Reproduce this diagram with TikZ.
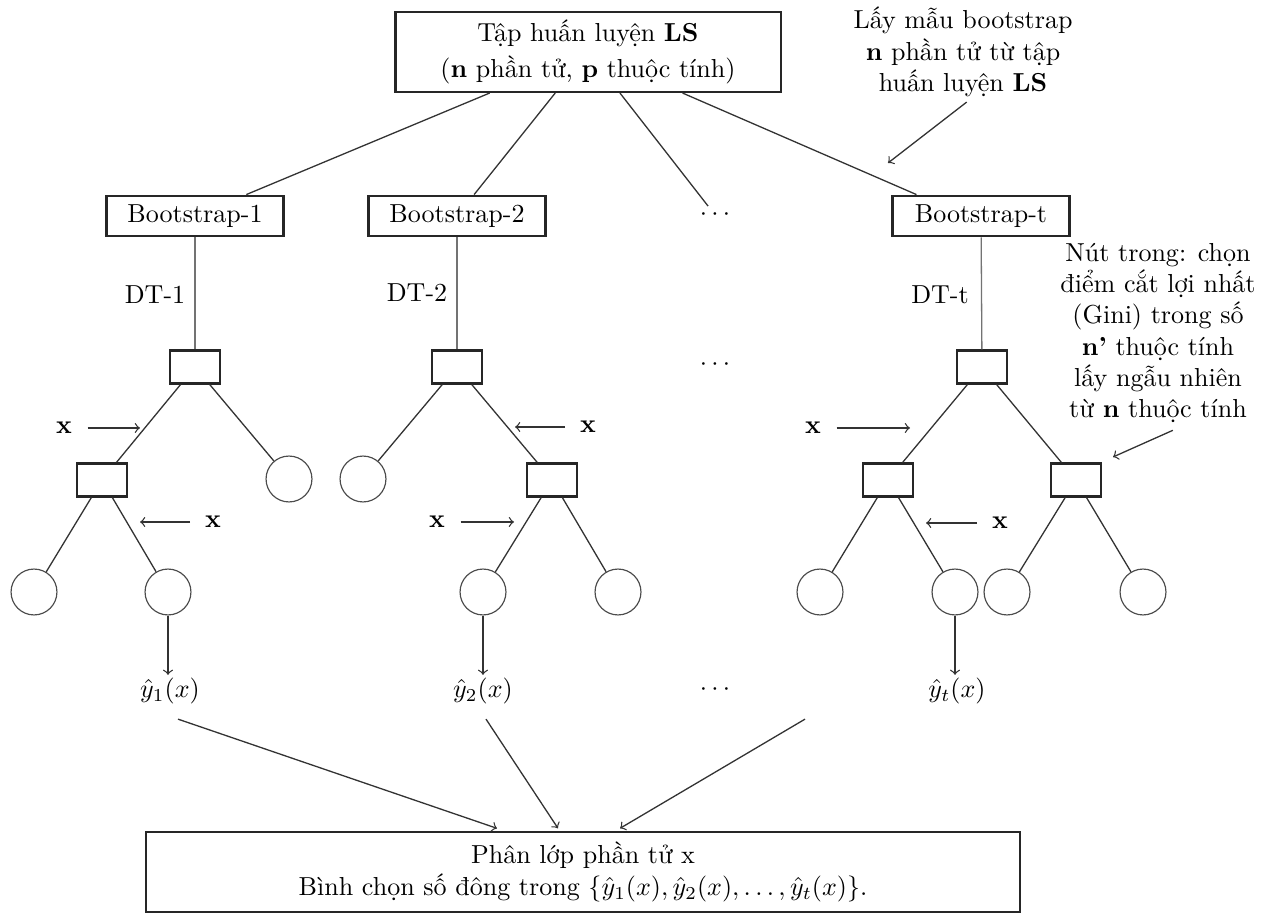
\documentclass[tikz,border=0pt]{standalone}
\usetikzlibrary{calc}
\begin{document}
\begin{tikzpicture}[x=0.0135cm,y=-0.0135cm,
  line/.style={draw=black!80, line width=0.5pt},
  arr/.style={line, ->},
  box/.style={draw=black!85, line width=0.8pt, inner sep=2pt, align=center},
  bsbox/.style={box, minimum width=2.39cm, minimum height=0.55cm},
  split/.style={draw=black!85, line width=0.8pt, minimum width=0.675cm, minimum height=0.446cm, inner sep=0pt},
  leaf/.style={circle, draw=black!70, line width=0.45pt, minimum size=0.62cm, inner sep=0pt},
  lbl/.style={inner sep=1pt, align=center},
  stem/.style={draw=black!55, line width=0.5pt}
]
\useasboundingbox (0,0) rectangle (1274,915);

% top box
\node[box, minimum width=5.2cm, minimum height=1.08cm] (ls) at (588,52)
  {Tập huấn luyện \textbf{LS}\\[1.5pt](\textbf{n} phần tử, \textbf{p} thuộc tính)};

% bootstrap boxes
\node[bsbox] (b1) at (195,216) {Bootstrap-1};
\node[bsbox] (b2) at (457,216) {Bootstrap-2};
\node[bsbox] (bt) at (981,216) {Bootstrap-t};
\node[lbl] (d1) at (715,215) {$\cdots$};
\node[lbl] (d2) at (715,365) {$\cdots$};
\node[lbl] (d3) at (715,690) {$\cdots$};

\draw[line] (ls) -- (b1);
\draw[line] (ls) -- (b2);
\draw[line] (ls) -- (d1);
\draw[line] (ls) -- ($(bt.north west)+(25,0)$);

% annotations
\node[lbl] (ann1) at (963,52) {Lấy mẫu bootstrap\\ \textbf{n} phần tử từ tập\\ huấn luyện \textbf{LS}};
\coordinate (ann1e) at (888,163);
\draw[arr] ([xshift=0.05cm,yshift=-0.03cm]ann1.south) -- (ann1e);

\node[lbl] (ann2) at (1158,333) {Nút trong: chọn\\ điểm cắt lợi nhất\\ (Gini) trong số\\ \textbf{n’} thuộc tính\\ lấy ngẫu nhiên\\ từ \textbf{n} thuộc tính};
\coordinate (ann2e) at (1113,457);
\draw[arr] ([xshift=0.2cm,yshift=-0.06cm]ann2.south) -- (ann2e);

% ---------- tree 1 ----------
\node[lbl] (dt1) at (155,295) {DT-1};
\node[split] (r1) at (195,367) {};
\node[split] (s1) at (102,480) {};
\node[leaf] (l1a) at (289,479) {};
\node[leaf] (l1b) at (34,592) {};
\node[leaf] (l1c) at (168,592) {};
\draw[stem] (b1) -- (r1);
\draw[line] (r1) -- (s1);
\draw[line] (r1) -- (l1a);
\draw[line] (s1) -- (l1b);
\draw[line] (s1) -- (l1c);
\node[lbl] (xa1) at (64,428) {\textbf{x}};
\coordinate (xa1e) at (140,428);
\draw[arr, shorten <=0.17cm] (xa1) -- (xa1e);
\node[lbl] (xb1) at (213,522) {\textbf{x}};
\coordinate (xb1e) at (140,522);
\draw[arr, shorten <=0.16cm] (xb1) -- (xb1e);
\node[lbl] (y1) at (170,691) {$\hat{y}_1(x)$};
\draw[arr] (l1c) -- (l1c |- y1.north);

% ---------- tree 2 ----------
\node[lbl] (dt2) at (417,293) {DT-2};
\node[split] (r2) at (457,367) {};
\node[leaf] (l2a) at (363,479) {};
\node[split] (s2) at (552,480) {};
\node[leaf] (l2b) at (483,592) {};
\node[leaf] (l2c) at (618,592) {};
\draw[stem] (b2) -- (r2);
\draw[line] (r2) -- (l2a);
\draw[line] (r2) -- (s2);
\draw[line] (s2) -- (l2b);
\draw[line] (s2) -- (l2c);
\node[lbl] (xa2) at (588,427) {\textbf{x}};
\coordinate (xa2e) at (515,427);
\draw[arr, shorten <=0.16cm] (xa2) -- (xa2e);
\node[lbl] (xb2) at (437,522) {\textbf{x}};
\coordinate (xb2e) at (514,522);
\draw[arr, shorten <=0.17cm] (xb2) -- (xb2e);
\node[lbl] (y2) at (483,691) {$\hat{y}_2(x)$};
\draw[arr] (l2b) -- (l2b |- y2.north);

% ---------- tree t ----------
\node[lbl] (dtt) at (940,295) {DT-t};
\node[split] (rt) at (982,367) {};
\node[split] (st1) at (888,480) {};
\node[split] (st2) at (1076,480) {};
\node[leaf] (lt1) at (820,592) {};
\node[leaf] (lt2) at (955,592) {};
\node[leaf] (lt3) at (1007,592) {};
\node[leaf] (lt4) at (1143,592) {};
\draw[stem] (bt) -- (rt);
\draw[line] (rt) -- (st1);
\draw[line] (rt) -- (st2);
\draw[line] (st1) -- (lt1);
\draw[line] (st1) -- (lt2);
\draw[line] (st2) -- (lt3);
\draw[line] (st2) -- (lt4);
\node[lbl] (xat) at (813,428) {\textbf{x}};
\coordinate (xate) at (910,428);
\draw[arr, shorten <=0.17cm] (xat) -- (xate);
\node[lbl] (xbt) at (1000,523) {\textbf{x}};
\coordinate (xbte) at (926,523);
\draw[arr, shorten <=0.16cm] (xbt) -- (xbte);
\node[lbl] (yt) at (957,691) {$\hat{y}_t(x)$};
\draw[arr] (lt2) -- (lt2 |- yt.north);

% ---------- bottom box ----------
\node[box, minimum width=11.81cm, minimum height=1.07cm] (bot) at (583,872)
  {Phân lớp phần tử x\\ Bình chọn số đông trong $\{\hat{y}_1(x), \hat{y}_2(x), \ldots, \hat{y}_t(x)\}$.};

\coordinate (t1) at ($(y1.south)+(8,12)$);
\coordinate (t2) at ($(y2.south)+(3,12)$);
\coordinate (t3) at ($(yt.south)+(-152,12)$);
\coordinate (h1) at ($(bot.north)+(-86,-3)$);
\coordinate (h2) at ($(bot.north)+(-25,-3)$);
\coordinate (h3) at ($(bot.north)+(37,-3)$);
\draw[arr] (t1) -- (h1);
\draw[arr] (t2) -- (h2);
\draw[arr] (t3) -- (h3);
\end{tikzpicture}
\end{document}
